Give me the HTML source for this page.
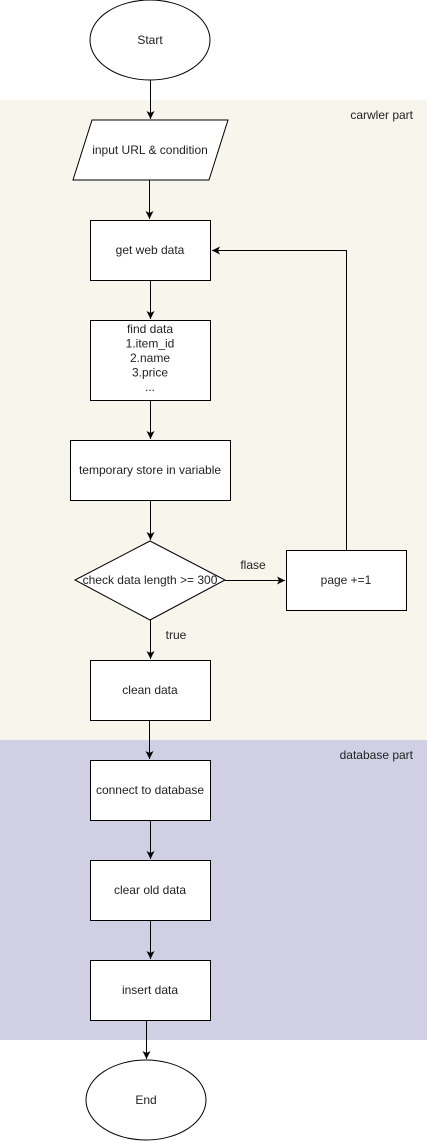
<!DOCTYPE html>
<html><head><meta charset="utf-8"><style>
html,body{margin:0;padding:0;background:#fff;}
svg{display:block;}
text{font-family:"Liberation Sans",Arial,sans-serif;font-size:12px;fill:#222;}
</style></head><body>
<svg width="427" height="1141" viewBox="0 0 427 1141" xmlns="http://www.w3.org/2000/svg">
<defs>
<marker id="a" markerWidth="10" markerHeight="10" refX="8" refY="5" orient="auto" markerUnits="userSpaceOnUse">
<path d="M0,1 L8,5 L0,9 L2,5 Z" fill="#000"/>
</marker>
</defs>
<rect x="0" y="100" width="427" height="640" fill="#f7f5ec"/>
<rect x="0" y="740" width="427" height="300" fill="#d0cfe3"/>
<text x="413" y="119" text-anchor="end">carwler part</text>
<text x="413" y="239" text-anchor="end" transform="translate(0,520)">database part</text>

<g fill="#fff" stroke="#000" stroke-width="1">
<ellipse cx="150" cy="40" rx="60" ry="40"/>
<polygon points="92,120 228,120 209,180 73,180"/>
<rect x="90.5" y="220.5" width="120" height="60"/>
<rect x="90.5" y="320.5" width="120" height="80"/>
<rect x="70.5" y="440.5" width="160" height="60"/>
<polygon points="150,541 225,580 150,620 75,580"/>
<rect x="286.5" y="550.5" width="120" height="60"/>
<rect x="90.5" y="660.5" width="120" height="60"/>
<rect x="90.5" y="760.5" width="120" height="60"/>
<rect x="90.5" y="860.5" width="120" height="60"/>
<rect x="90.5" y="960.5" width="120" height="60"/>
<ellipse cx="146" cy="1100" rx="60" ry="40"/>
</g>

<g stroke="#000" stroke-width="1" fill="none" marker-end="url(#a)">
<line x1="150.5" y1="80" x2="150.5" y2="119"/>
<line x1="149.5" y1="180" x2="149.5" y2="219"/>
<line x1="150.5" y1="280" x2="150.5" y2="319"/>
<line x1="150.5" y1="400" x2="150.5" y2="439"/>
<line x1="150.5" y1="500" x2="150.5" y2="540"/>
<line x1="225" y1="580.5" x2="285" y2="580.5"/>
<polyline points="346.5,550 346.5,250.5 212,250.5"/>
<line x1="150.5" y1="620" x2="150.5" y2="659"/>
<line x1="149.5" y1="720" x2="149.5" y2="759"/>
<line x1="150.5" y1="820" x2="150.5" y2="859"/>
<line x1="150.5" y1="920" x2="150.5" y2="959"/>
<line x1="146.5" y1="1020" x2="146.5" y2="1059"/>
</g>

<g text-anchor="middle">
<text x="150" y="44">Start</text>
<text x="150" y="154">input URL &amp; condition</text>
<text x="150" y="254">get web data</text>
<text x="150" y="333">find data</text>
<text x="150" y="347.5">1.item_id</text>
<text x="150" y="362">2.name</text>
<text x="150" y="376.5">3.price</text>
<text x="150" y="391">...</text>
<text x="150" y="474">temporary store in variable</text>
<text x="150" y="584">check data length &gt;= 300</text>
<text x="346" y="584">page +=1</text>
<text x="253" y="569">flase</text>
<text x="176" y="639">true</text>
<text x="150" y="694">clean data</text>
<text x="150" y="794">connect to database</text>
<text x="150" y="894">clear old data</text>
<text x="150" y="994">insert data</text>
<text x="146" y="1104">End</text>
</g>
</svg>
</body></html>
